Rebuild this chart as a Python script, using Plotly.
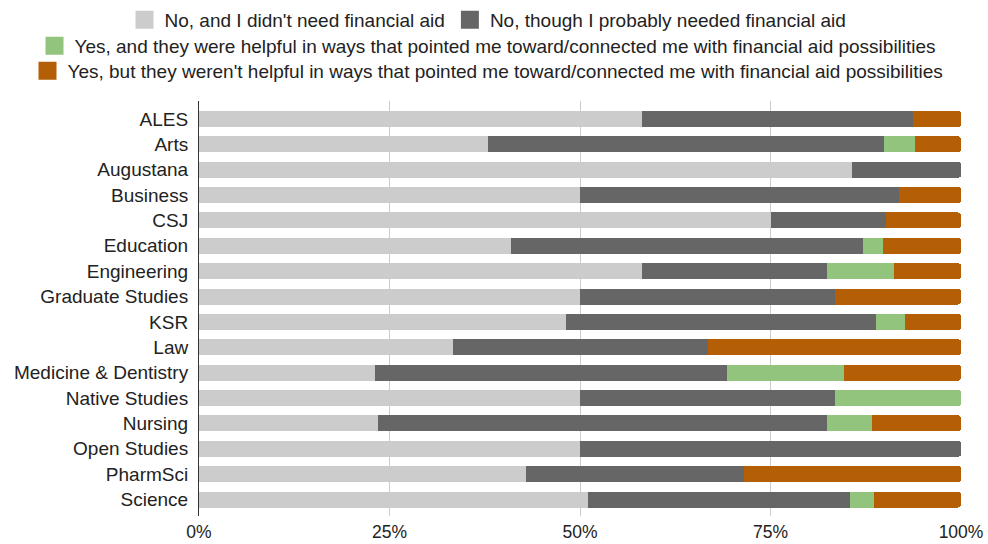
import plotly.graph_objects as go

categories = ["ALES", "Arts", "Augustana", "Business", "CSJ", "Education", "Engineering",
              "Graduate Studies", "KSR", "Law", "Medicine & Dentistry", "Native Studies",
              "Nursing", "Open Studies", "PharmSci", "Science"]

series_names = [
    "No, and I didn't need financial aid",
    "No, though I probably needed financial aid",
    "Yes, and they were helpful in ways that pointed me toward/connected me with financial aid possibilities",
    "Yes, but they weren't helpful in ways that pointed me toward/connected me with financial aid possibilities",
]

no_didnt_need = [58.2, 37.9, 85.7, 50.0, 75.1, 41.0, 58.2, 50.0, 48.2, 33.3, 23.1, 50.0, 23.5, 50.0, 42.9, 51.1]
no_needed     = [35.5, 52.0, 14.3, 41.8, 15.0, 46.2, 24.2, 33.5, 40.7, 33.5, 46.2, 33.5, 58.9, 50.0, 28.6, 34.3]
yes_helpful   = [0.0,  4.0,  0.0,  0.0,  0.0,  2.5,  8.8,  0.0,  3.8,  0.0, 15.4, 16.5,  5.9,  0.0,  0.0,  3.2]
yes_unhelpful = [6.3,  6.1,  0.0,  8.2,  9.9, 10.3,  8.8, 16.5,  7.3, 33.2, 15.3,  0.0, 11.7,  0.0, 28.5, 11.4]

colors = ["#cccccc", "#666666", "#93c47d", "#b45f06"]
legend_ids = ["legend", "legend", "legend2", "legend3"]
values = [no_didnt_need, no_needed, yes_helpful, yes_unhelpful]

fig = go.Figure()
for name, vals, col in zip(series_names, values, colors):
    fig.add_trace(go.Bar(
        y=categories, x=vals, name=name, orientation="h",
        marker=dict(color=col, line=dict(width=0), cornerradius=3),
        showlegend=False,
    ))

# legend entries (larger square swatches like the reference)
for name, col, lg in zip(series_names, colors, legend_ids):
    fig.add_trace(go.Scatter(
        x=[None], y=[None], mode="markers", name=name, legend=lg,
        marker=dict(symbol="square", size=16, color=col, line=dict(color=col, width=2)),
        hoverinfo="skip",
    ))

font_family = "Liberation Sans, Arial, sans-serif"
FS = 19
leg_common = dict(orientation="h", xref="container", yref="container", x=488 / 988, xanchor="center",
                  yanchor="middle", font=dict(size=FS, color="#222222", family=font_family),
                  bgcolor="rgba(0,0,0,0)", itemclick=False, traceorder="normal",
                  itemsizing="trace")

fig.update_layout(
    width=988, height=544,
    barmode="stack",
    bargap=0.37,
    plot_bgcolor="white", paper_bgcolor="white",
    margin=dict(l=199, r=27, t=101, b=28, autoexpand=False),
    font=dict(family=font_family, size=FS, color="#222222"),
    legend=dict(**leg_common, y=1 - 20 / 544),
    legend2=dict(**leg_common, y=1 - 46 / 544),
    legend3=dict(**leg_common, y=1 - 71 / 544),
    xaxis=dict(range=[0, 100], tickvals=[0, 25, 50, 75, 100],
               ticktext=["0%", "25%", "50%", "75%", "100%"],
               showgrid=True, gridcolor="#cccccc", gridwidth=1,
               zeroline=False, showline=False, ticks="", automargin=False,
               ticklabelstandoff=3,
               tickfont=dict(size=17.5, color="#222222")),
    yaxis=dict(categoryorder="array", categoryarray=categories,
               range=[15.65, -0.71], showline=True, linecolor="#333333", linewidth=1,
               showgrid=False, ticks="", ticklabelstandoff=6, automargin=False,
               tickfont=dict(size=FS, color="#222222")),
)

fig.write_html("out.html")
